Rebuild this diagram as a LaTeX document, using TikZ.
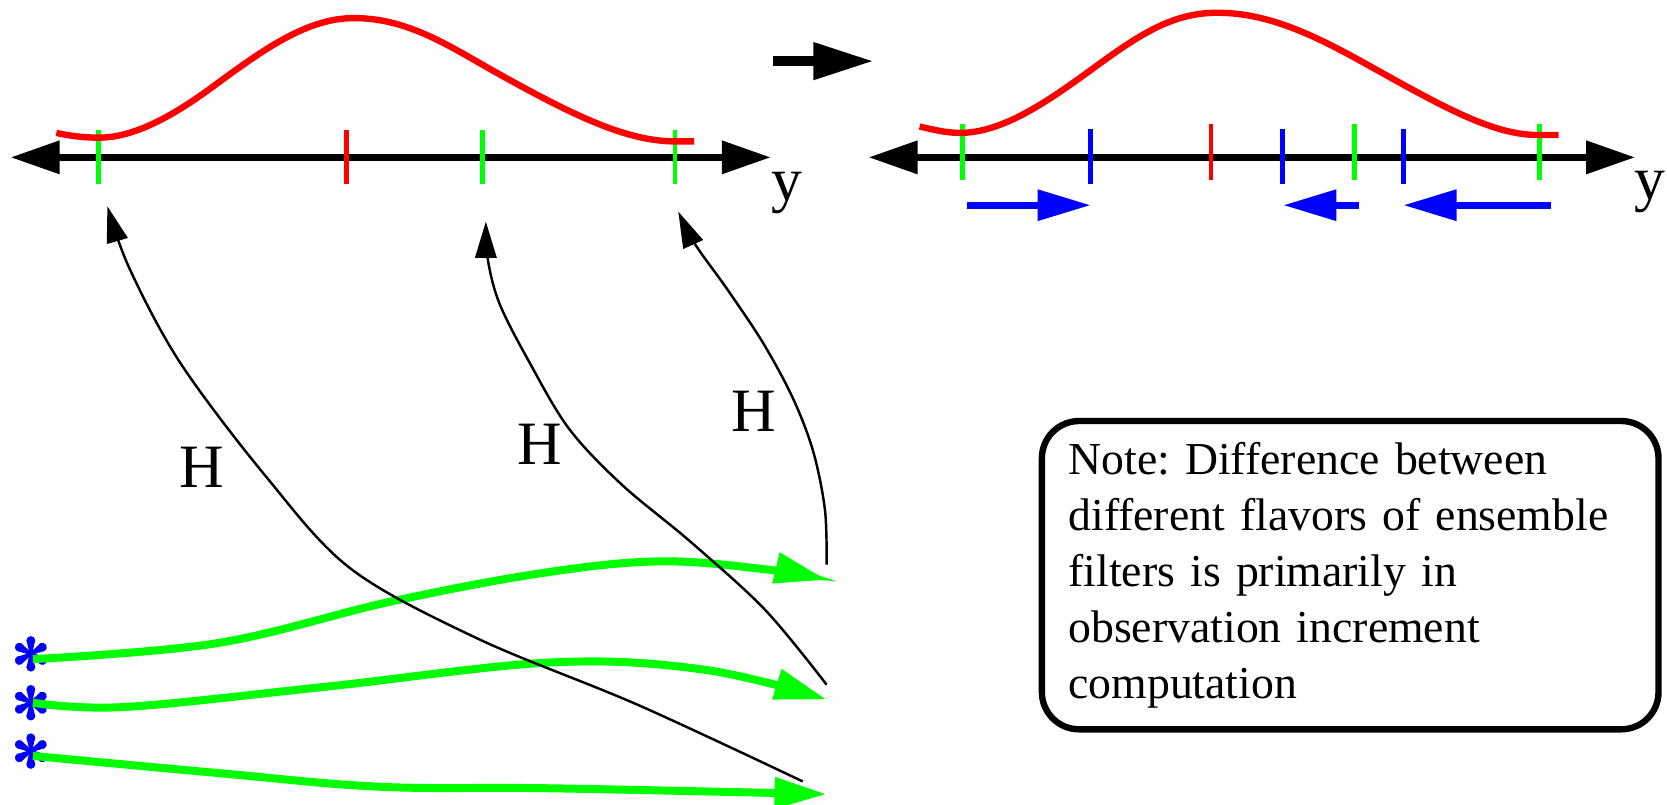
\documentclass[tikz,border=0pt]{standalone}
\usepackage{fontspec}
\setmainfont{Liberation Serif}
\newfontfamily\notefont{Liberation Serif}
\usetikzlibrary{arrows.meta}
\definecolor{pgreen}{RGB}{0,255,0}
\definecolor{pred}{RGB}{255,0,0}
\definecolor{pblue}{RGB}{0,0,255}
\frenchspacing
\tikzset{
  axisline/.style={line width=6.5pt, arrows={Triangle[length=46pt,width=30pt]-Triangle[length=46pt,width=30pt]}},
  tickg/.style={draw=pgreen, line width=4.5pt},
  tickr/.style={draw=pred, line width=4.5pt},
  tickb/.style={draw=pblue, line width=4.5pt},
  gauss/.style={draw=pred, line width=6pt},
  shiftarrow/.style={draw=pblue, line width=6.5pt, arrows={-Triangle[length=50pt,width=28pt]}},
  bigarrow/.style={draw=black, line width=9.7pt, arrows={-Triangle[length=57pt,width=33pt]}},
  hmap/.style={draw=black, line width=2.3pt, arrows={-Triangle[length=34pt,width=20pt]}},
  fcst/.style={draw=pgreen, line width=7.5pt, arrows={-Triangle[length=49pt,width=28pt]}},
  lbl/.style={inner sep=0pt, font=\notefont\fontsize{58}{62}\selectfont},
  notebox/.style={draw, line width=6pt, rounded corners=35pt, minimum width=580pt,
    minimum height=290pt, text width=530pt, align=left, inner sep=0pt,
    font=\notefont\fontsize{43}{52.7}\selectfont\frenchspacing},
  asterisk/.pic={\foreach \a in {30,90,...,330}{
      \fill[pblue,rotate=\a] (0pt,-1.2pt) -- (12.5pt,-4pt) -- (12.5pt,4pt) -- (0pt,1.2pt) -- cycle;
      \fill[pblue,rotate=\a] (12.5pt,0pt) circle[radius=4.2pt];}
    \fill[pblue] (0,0) circle[radius=2.8pt];}
}
\begin{document}
\begin{tikzpicture}[x=1pt,y=-1pt]
\useasboundingbox (0,0) rectangle (1568,757);
% ---------- left panel ----------
\coordinate (LA) at (10,148);
\coordinate (LB) at (725,148);
\draw[axisline] (LA) -- (LB);
\coordinate (t1) at (93,122);   \coordinate (t1b) at (93,173);
\coordinate (t2) at (326,122);  \coordinate (t2b) at (326,173);
\coordinate (t3) at (454,122);  \coordinate (t3b) at (454,173);
\coordinate (t4) at (635,122);  \coordinate (t4b) at (635,173);
\draw[tickg] (t1) -- (t1b);
\draw[tickr] (t2) -- (t2b);
\draw[tickg] (t3) -- (t3b);
\draw[tickg] (t4) -- (t4b);
\draw[gauss] (53,125) .. controls (66,128) and (80,129.5) .. (93,129.5)
  .. controls (130,129.5) and (170,104) .. (205,78)
  .. controls (250,45) and (290,17) .. (333,17)
  .. controls (385,17) and (425,45) .. (470,70)
  .. controls (540,109) and (590,133) .. (635,133) -- (653,133);
\node[lbl, anchor=base] (yl) at (740,189) {y};

% ---------- transition arrow ----------
\coordinate (ba) at (727,57.5);
\coordinate (bb) at (822,57.5);
\draw[bigarrow] (ba) -- (bb);

% ---------- right panel ----------
\coordinate (RA) at (817,148);
\coordinate (RB) at (1538,148);
\draw[axisline] (RA) -- (RB);
\coordinate (u1) at (905,117);  \coordinate (u1b) at (905,169);
\coordinate (u2) at (1026,121); \coordinate (u2b) at (1026,173);
\coordinate (u3) at (1139,117); \coordinate (u3b) at (1139,169);
\coordinate (u4) at (1206,121); \coordinate (u4b) at (1206,173);
\coordinate (u5) at (1274,117); \coordinate (u5b) at (1274,169);
\coordinate (u6) at (1320,121); \coordinate (u6b) at (1320,173);
\coordinate (u7) at (1448,117); \coordinate (u7b) at (1448,169);
\draw[tickg] (u1) -- (u1b);
\draw[tickb] (u2) -- (u2b);
\draw[tickr] (u3) -- (u3b);
\draw[tickb] (u4) -- (u4b);
\draw[tickg] (u5) -- (u5b);
\draw[tickb] (u6) -- (u6b);
\draw[tickg] (u7) -- (u7b);
\draw[gauss] (865,119) .. controls (878,122) and (890,125) .. (903,125)
  .. controls (945,125) and (990,92) .. (1030,63)
  .. controls (1075,30) and (1105,12) .. (1145,12)
  .. controls (1195,12) and (1240,35) .. (1290,63)
  .. controls (1360,102) and (1405,127) .. (1447,127) -- (1466,127);
\node[lbl, anchor=base] (yr) at (1552,188) {y};
\coordinate (m1a) at (910,193);  \coordinate (m1b) at (1026,193);
\coordinate (m2a) at (1278,193); \coordinate (m2b) at (1207,193);
\coordinate (m3a) at (1459,193); \coordinate (m3b) at (1320,193);
\draw[shiftarrow] (m1a) -- (m1b);
\draw[shiftarrow] (m2a) -- (m2b);
\draw[shiftarrow] (m3a) -- (m3b);

% ---------- ensemble members ----------
\coordinate (a1) at (29,615);
\coordinate (a2) at (29,661);
\coordinate (a3) at (29,706.5);
\pic at (a1) {asterisk};
\pic at (a2) {asterisk};
\pic at (a3) {asterisk};
\coordinate (g1) at (777.5,545.5);
\coordinate (g2) at (777.5,658);
\coordinate (g3) at (777.5,747);
\draw[fcst] plot[smooth, tension=0.6] coordinates {(31,620) (204,605) (367,566) (510,539) (622,528) (724,536) (g1)};
\draw[fcst] plot[smooth, tension=0.6] coordinates {(31,661) (117,665) (306,646) (520,623) (663,630) (g2)};
\draw[fcst] plot[smooth, tension=0.6] coordinates {(31,711) (204,727) (357,740) (520,741.5) (g3)};

% ---------- forward operator H ----------
\coordinate (h1s) at (755,735);   \coordinate (h1) at (101,194);
\coordinate (h2s) at (777.5,644); \coordinate (h2) at (457,208.5);
\coordinate (h3s) at (777.5,531); \coordinate (h3) at (638,199);
\draw[hmap] plot[smooth, tension=0.55] coordinates {(h1s) (600,663) (450,601) (330,535) (250,448) (170,342) (122,253) (h1)};
\draw[hmap] plot[smooth, tension=0.55] coordinates {(h2s) (720,574) (650,510) (585,456) (535,403) (497,339) (470,286) (459,245) (h2)};
\draw[hmap] plot[smooth, tension=0.55] coordinates {(h3s) (776,480) (765,425) (746,375) (718,323) (684,272) (654,230) (h3)};
\node[lbl, anchor=base] (H1) at (190,459) {H};
\node[lbl, anchor=base] (H2) at (508,437) {H};
\node[lbl, anchor=base] (H3) at (709,406) {H};

% ---------- note ----------
\node[notebox] (note) at (1270,541) {Note: Difference between\\different flavors of ensemble\\filters is primarily in\\observation increment\\computation};
\end{tikzpicture}
\end{document}
